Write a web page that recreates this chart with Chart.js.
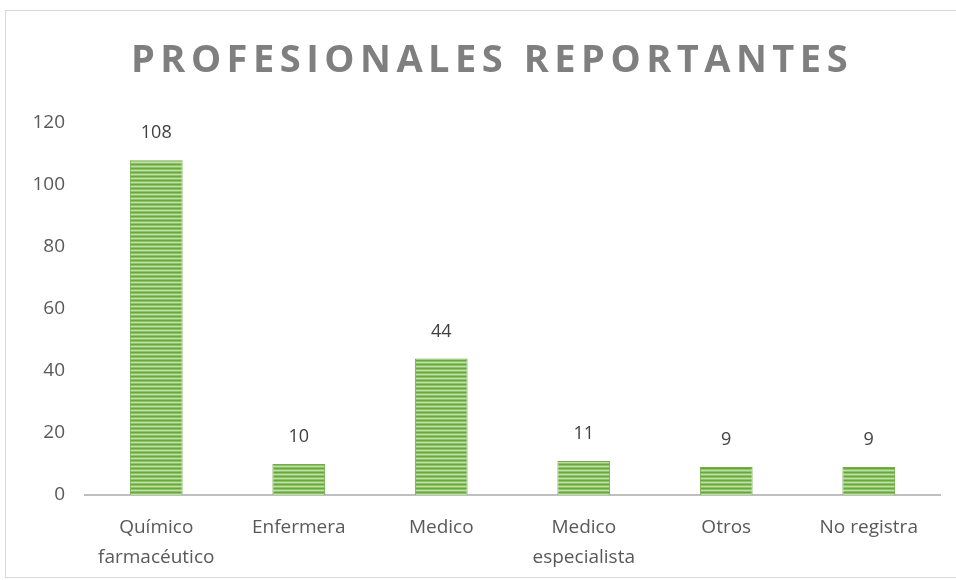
<!DOCTYPE html>
<html>
<head>
<meta charset="utf-8">
<script src="https://cdn.jsdelivr.net/npm/chart.js@4.4.1/dist/chart.umd.min.js"></script>
<style>
  html, body { margin: 0; padding: 0; background: #ffffff; }
  #frame { position: absolute; left: 5px; top: 10px; width: 960px; height: 566px; border: 1px solid #d9d9d9; }
  #wrap { position: absolute; left: 0; top: 0; width: 956px; height: 580px; }
</style>
</head>
<body>
<div id="frame"></div>
<div id="wrap"><canvas id="c" width="956" height="580"></canvas></div>
<script>
const chartTitle = "PROFESIONALES REPORTANTES";
const categories = [["Químico", "farmacéutico"], "Enfermera", "Medico", ["Medico", "especialista"], "Otros", "No registra"];
const values = [108, 10, 44, 11, 9, 9];
const yTicks = [0, 20, 40, 60, 80, 100, 120];

function stripePattern() {
  const p = document.createElement('canvas');
  p.width = 4; p.height = 4;
  const g = p.getContext('2d');
  const rows = ['#67a83b', '#8fc36a', '#c0dfa8', '#8fc36a'];
  rows.forEach((c, i) => { g.fillStyle = c; g.fillRect(0, i, 4, 1); });
  return g.createPattern(p, 'repeat');
}

const spacedTitle = {
  id: 'spacedTitle',
  afterDraw(chart) {
    const ctx = chart.ctx;
    ctx.save();
    ctx.font = 'bold 38px "Open Sans"';
    ctx.letterSpacing = '5.5px';
    ctx.fillStyle = '#7f7f7f';
    ctx.textAlign = 'center';
    ctx.textBaseline = 'middle';
    ctx.fillText(chartTitle, 492, 61);
    ctx.restore();
  }
};

const valueLabels = {
  id: 'valueLabels',
  afterDatasetsDraw(chart) {
    const ctx = chart.ctx;
    const meta = chart.getDatasetMeta(0);
    ctx.save();
    ctx.font = '18px "Open Sans"';
    ctx.fillStyle = '#404040';
    ctx.textAlign = 'center';
    ctx.textBaseline = 'middle';
    meta.data.forEach((bar, i) => {
      ctx.fillText(String(values[i]), bar.x, bar.y - 27);
    });
    ctx.restore();
  }
};

new Chart(document.getElementById('c'), {
  type: 'bar',
  data: {
    labels: categories,
    datasets: [{
      data: values,
      backgroundColor: stripePattern(),
      borderColor: '#70ad47',
      borderWidth: 1,
      barPercentage: 0.37,
      categoryPercentage: 1
    }]
  },
  plugins: [spacedTitle, valueLabels],
  options: {
    responsive: false,
    animation: false,
    layout: { padding: { top: 123, right: 16, left: 0, bottom: 0 } },
    plugins: { legend: { display: false }, tooltip: { enabled: false }, title: { display: false } },
    scales: {
      x: {
        grid: { display: false },
        border: { display: true, color: '#bfbfbf', width: 2 },
        ticks: { color: '#595959', font: { family: '"Open Sans"', size: 19, lineHeight: 1.55 }, padding: 10, maxRotation: 0, autoSkip: false },
        afterFit(scale) { scale.height = 85; }
      },
      y: {
        min: 0, max: 120,
        afterBuildTicks(scale) { scale.ticks = yTicks.map(v => ({ value: v })); },
        grid: { display: false, drawTicks: false },
        border: { display: false },
        ticks: { color: '#595959', font: { family: '"Open Sans"', size: 19 }, padding: 20 },
        afterFit(scale) { scale.width = 85; }
      }
    }
  }
});
</script>
</body>
</html>
